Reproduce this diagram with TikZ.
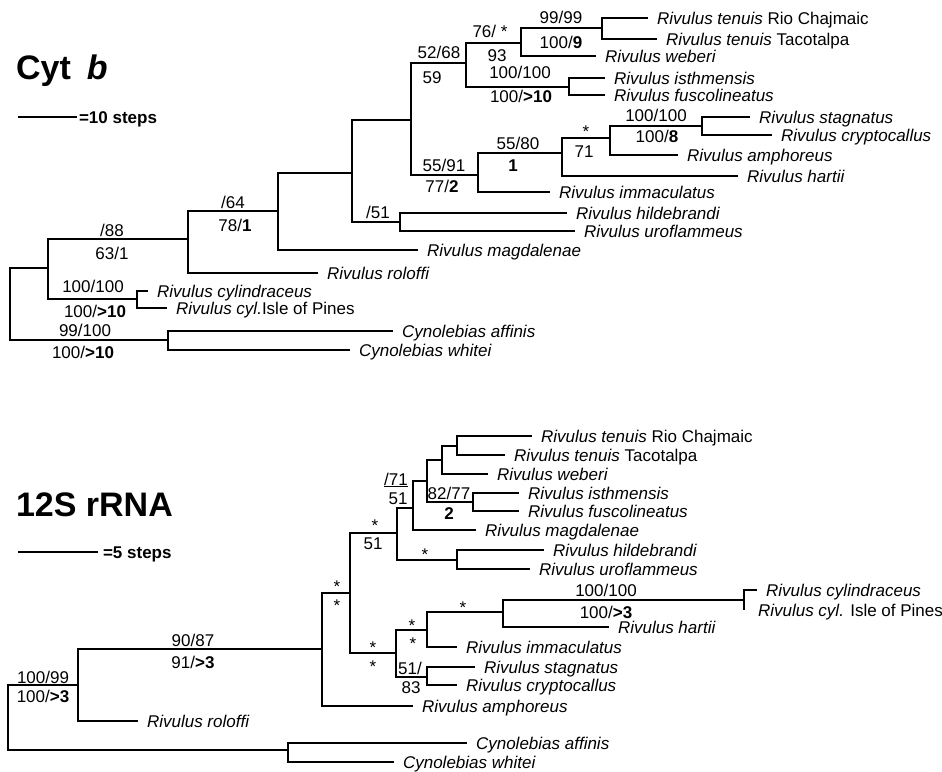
\documentclass[tikz,border=0pt]{standalone}
\usepackage{fontspec}
\setmainfont{Liberation Sans}
\begin{document}
\begin{tikzpicture}[x=1pt, y=-1pt, line width=2.1pt,
    lbl/.style={font=\fontsize{17}{17}\selectfont, inner sep=0pt, text height=12.2pt, text depth=0pt},
    leaf/.style={font=\fontsize{17}{17}\selectfont\itshape, anchor=west, inner ysep=0pt, inner xsep=8pt, text height=12.2pt, text depth=0pt},
    heading/.style={font=\fontsize{34}{34}\selectfont\bfseries, anchor=base west, inner sep=0pt},
    scalelbl/.style={font=\fontsize{17}{17}\selectfont\bfseries, anchor=west, inner xsep=1pt, inner ysep=0pt, text height=12.2pt, text depth=0pt}]
    \useasboundingbox (0,0) rectangle (942,771);

    % Headings and scale bars
    \node[heading] (cbTitle) at (15,79) {Cyt\hspace{16pt}\textit{b}};
    \coordinate (cbBar) at (18,117);
    \node[scalelbl] (cbScale) at (77,117) {=10 steps};
    \draw[line width=1.5pt] (cbBar) -- (cbScale.west);
    \node[heading] (rrTitle) at (15,516) {12S rRNA};
    \coordinate (rrBar) at (18,552);
    \node[scalelbl] (rrScale) at (98,552) {\hspace{3pt}=5 steps};
    \draw[line width=1.5pt] (rrBar) -- (rrScale.west);

    % Cyt b: inner nodes
    \coordinate (cbRoot) at (10,304);
    \coordinate (cbA) at (48,268);
    \coordinate (cbCyl) at (137,299);
    \coordinate (cbCyn) at (168,340);
    \coordinate (cbB) at (188,239);
    \coordinate (cbC) at (278,211);
    \coordinate (cbD) at (352,173);
    \coordinate (cbF) at (400,222);
    \coordinate (cbE) at (411,120);
    \coordinate (cbG) at (466,63);
    \coordinate (cbT) at (521,43);
    \coordinate (cbTen) at (602,28);
    \coordinate (cbI) at (569,87);
    \coordinate (cbH) at (478,175);
    \coordinate (cbJ) at (562,153);
    \coordinate (cbK) at (610,138);
    \coordinate (cbL) at (702,126);

    % Cyt b: taxa
    \node[leaf] (cbTen1) at (648,18) {Rivulus tenuis \upshape Rio Chajmaic};
    \node[leaf] (cbTen2) at (657,39) {Rivulus tenuis \upshape Tacotalpa};
    \node[leaf] (cbWeb) at (596,56) {Rivulus weberi};
    \node[leaf] (cbIst) at (605,78) {Rivulus isthmensis};
    \node[leaf] (cbFus) at (605,95) {Rivulus fuscolineatus};
    \node[leaf] (cbSta) at (750,117) {Rivulus stagnatus};
    \node[leaf] (cbCry) at (772,135) {Rivulus cryptocallus};
    \node[leaf] (cbAmp) at (678,155) {Rivulus amphoreus};
    \node[leaf] (cbHar) at (738,176) {Rivulus hartii};
    \node[leaf] (cbImm) at (550,192) {Rivulus immaculatus};
    \node[leaf] (cbHil) at (567,213) {Rivulus hildebrandi};
    \node[leaf] (cbUro) at (575,231) {Rivulus uroflammeus};
    \node[leaf] (cbMag) at (418,250) {Rivulus magdalenae};
    \node[leaf] (cbRol) at (318,273) {Rivulus roloffi};
    \node[leaf] (cbCy1) at (148,291) {Rivulus cylindraceus};
    \node[leaf] (cbCy2) at (167,308) {Rivulus cyl.\upshape Isle of Pines};
    \node[leaf] (cbAff) at (393,331) {Cynolebias affinis};
    \node[leaf] (cbWhi) at (350,350) {Cynolebias whitei};

    % Cyt b: branches
    \draw (cbRoot) |- (cbA) (cbRoot) |- (cbCyn);
    \draw (cbA) |- (cbB) (cbA) |- (cbCyl);
    \draw (cbCyl) |- (cbCy1.west) (cbCyl) |- (cbCy2.west);
    \draw (cbCyn) |- (cbAff.west) (cbCyn) |- (cbWhi.west);
    \draw (cbB) |- (cbC) (cbB) |- (cbRol.west);
    \draw (cbC) |- (cbD) (cbC) |- (cbMag.west);
    \draw (cbD) |- (cbE) (cbD) |- (cbF);
    \draw (cbF) |- (cbHil.west) (cbF) |- (cbUro.west);
    \draw (cbE) |- (cbG) (cbE) |- (cbH);
    \draw (cbG) |- (cbT) (cbG) |- (cbI);
    \draw (cbT) |- (cbTen) (cbT) |- (cbWeb.west);
    \draw (cbTen) |- (cbTen1.west) (cbTen) |- (cbTen2.west);
    \draw (cbI) |- (cbIst.west) (cbI) |- (cbFus.west);
    \draw (cbH) |- (cbJ) (cbH) |- (cbImm.west);
    \draw (cbJ) |- (cbK) (cbJ) |- (cbHar.west);
    \draw (cbK) |- (cbL) (cbK) |- (cbAmp.west);
    \draw (cbL) |- (cbSta.west) (cbL) |- (cbCry.west);

    % Cyt b: support values
    \node[lbl] (cbS1) at (112,230) {/88};
    \node[lbl] (cbS2) at (112,253) {63/1};
    \node[lbl] (cbS3) at (93,286) {100/100};
    \node[lbl] (cbS4) at (95,311) {100/\textbf{>10}};
    \node[lbl] (cbS5) at (85,330) {99/100};
    \node[lbl] (cbS6) at (83,352) {100/\textbf{>10}};
    \node[lbl] (cbS7) at (233,202) {/64};
    \node[lbl] (cbS8) at (235,225) {78/\textbf{1}};
    \node[lbl] (cbS9) at (378,212) {/51};
    \node[lbl] (cbS10) at (439,52) {52/68};
    \node[lbl] (cbS11) at (432,77) {59};
    \node[lbl] (cbS12) at (490,31) {76/ *};
    \node[lbl] (cbS13) at (497,55) {93};
    \node[lbl] (cbS14) at (561,17) {99/99};
    \node[lbl] (cbS15) at (561,42) {100/\textbf{9}};
    \node[lbl] (cbS16) at (520,72) {100/100};
    \node[lbl] (cbS17) at (521,96) {100/\textbf{>10}};
    \node[lbl] (cbS18) at (444,165) {55/91};
    \node[lbl] (cbS19) at (442,186) {77/\textbf{2}};
    \node[lbl] (cbS20) at (518,143) {55/80};
    \node[lbl] (cbS21) at (513,165) {\textbf{1}};
    \node[lbl] (cbS22) at (586,131) {*};
    \node[lbl] (cbS23) at (584,151) {71};
    \node[lbl] (cbS24) at (656,115) {100/100};
    \node[lbl] (cbS25) at (657,136) {100/\textbf{8}};

    % 12S rRNA: inner nodes
    \coordinate (rrRoot) at (8,717);
    \coordinate (rrA) at (78,685);
    \coordinate (rrCyn) at (288,750);
    \coordinate (rrB) at (322,649);
    \coordinate (rrC) at (350,593);
    \coordinate (rrD) at (397,533);
    \coordinate (rrE) at (413,508);
    \coordinate (rrF) at (427,481);
    \coordinate (rrG) at (442,460);
    \coordinate (rrTen) at (457,446);
    \coordinate (rrI) at (473,502);
    \coordinate (rrH) at (457,560);
    \coordinate (rrQ) at (396,653);
    \coordinate (rrP) at (427,630);
    \coordinate (rrM) at (503,612);
    \coordinate (rrN) at (744,600);
    \coordinate (rrS) at (427,677);

    % 12S rRNA: taxa
    \node[leaf] (rrTen1) at (532,436) {Rivulus tenuis \upshape Rio Chajmaic};
    \node[leaf] (rrTen2) at (505,455) {Rivulus tenuis \upshape Tacotalpa};
    \node[leaf] (rrWeb) at (488,474) {Rivulus weberi};
    \node[leaf] (rrIst) at (519,493) {Rivulus isthmensis};
    \node[leaf] (rrFus) at (519,511) {Rivulus fuscolineatus};
    \node[leaf] (rrMag) at (476,530) {Rivulus magdalenae};
    \node[leaf] (rrHil) at (544,550) {Rivulus hildebrandi};
    \node[leaf] (rrUro) at (530,569) {Rivulus uroflammeus};
    \node[leaf] (rrCy1) at (757,590) {Rivulus cylindraceus};
    \node[leaf, inner xsep=13pt] (rrCy2) at (744,610) {Rivulus cyl. \upshape Isle of Pines};
    \node[leaf] (rrHar) at (609,627) {Rivulus hartii};
    \node[leaf] (rrImm) at (457,647) {Rivulus immaculatus};
    \node[leaf] (rrSta) at (475,667) {Rivulus stagnatus};
    \node[leaf] (rrCry) at (457,685) {Rivulus cryptocallus};
    \node[leaf] (rrAmp) at (413,706) {Rivulus amphoreus};
    \node[leaf] (rrRol) at (138,721) {Rivulus roloffi};
    \node[leaf] (rrAff) at (467,743) {Cynolebias affinis};
    \node[leaf] (rrWhi) at (394,762) {Cynolebias whitei};

    % 12S rRNA: branches
    \draw (rrRoot) |- (rrA) (rrRoot) |- (rrCyn);
    \draw (rrA) |- (rrB) (rrA) |- (rrRol.west);
    \draw (rrCyn) |- (rrAff.west) (rrCyn) |- (rrWhi.west);
    \draw (rrB) |- (rrC) (rrB) |- (rrAmp.west);
    \draw (rrC) |- (rrD) (rrC) |- (rrQ);
    \draw (rrD) |- (rrE) (rrD) |- (rrH);
    \draw (rrH) |- (rrHil.west) (rrH) |- (rrUro.west);
    \draw (rrE) |- (rrF) (rrE) |- (rrMag.west);
    \draw (rrF) |- (rrG) (rrF) |- (rrI);
    \draw (rrG) |- (rrTen) (rrG) |- (rrWeb.west);
    \draw (rrTen) |- (rrTen1.west) (rrTen) |- (rrTen2.west);
    \draw (rrI) |- (rrIst.west) (rrI) |- (rrFus.west);
    \draw (rrQ) |- (rrP) (rrQ) |- (rrS);
    \draw (rrP) |- (rrM) (rrP) |- (rrImm.west);
    \draw (rrM) |- (rrN) (rrM) |- (rrHar.west);
    \draw (rrN) |- (rrCy1.west) (rrN) |- (rrCy2.west);
    \draw (rrS) |- (rrSta.west) (rrS) |- (rrCry.west);

    % 12S rRNA: support values
    \node[lbl] (rrS1) at (43,677) {100/99};
    \node[lbl] (rrS2) at (43,696) {100/\textbf{>3}};
    \node[lbl] (rrS3) at (193,640) {90/87};
    \node[lbl] (rrS4) at (193,662) {91/\textbf{>3}};
    \node[lbl] (rrS5) at (337,586) {*};
    \node[lbl] (rrS6) at (337,605) {*};
    \node[lbl] (rrS7) at (375,525) {*};
    \node[lbl] (rrS8) at (373,543) {51};
    \node[lbl] (rrS9) at (396,479) {\underline{/71}};
    \node[lbl] (rrS10) at (398,498) {51};
    \node[lbl] (rrS11) at (449,493) {82/77};
    \node[lbl] (rrS12) at (449,513) {\textbf{2}};
    \node[lbl] (rrS13) at (425,554) {*};
    \node[lbl] (rrS14) at (373,647) {*};
    \node[lbl] (rrS15) at (373,666) {*};
    \node[lbl] (rrS16) at (412,625) {*};
    \node[lbl] (rrS17) at (413,643) {*};
    \node[lbl] (rrS18) at (463,607) {*};
    \node[lbl] (rrS19) at (606,590) {100/100};
    \node[lbl] (rrS20) at (606,612) {100/\textbf{>3}};
    \node[lbl] (rrS21) at (410,668) {51/};
    \node[lbl] (rrS22) at (411,687) {83};
\end{tikzpicture}
\end{document}
